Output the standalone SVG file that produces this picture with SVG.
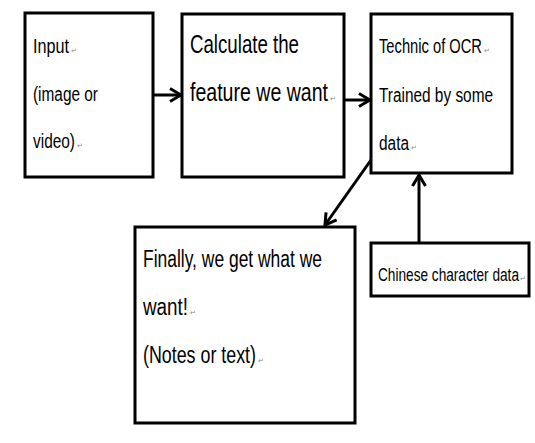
<svg xmlns="http://www.w3.org/2000/svg" width="535" height="443" viewBox="0 0 535 443">
<style>
.box{fill:#fff;stroke:#000;stroke-width:3}
.t{font-family:"Liberation Sans",Arial,sans-serif;fill:#000}
.a{font-size:16px}
.b{font-size:19px}
.c{font-size:15.3px}
.d{font-size:17.3px}
.e{font-size:13.6px}
.rm{font-family:"DejaVu Sans",sans-serif;font-size:7px;fill:#888}
.ln{stroke:#000;stroke-width:3;fill:none}
</style>
<defs>
<marker id="ah" viewBox="0 0 16 16" refX="14" refY="8" markerWidth="16" markerHeight="16" markerUnits="userSpaceOnUse" orient="auto">
<path d="M3,1.5 L14,8 L3,14.5" fill="none" stroke="#000" stroke-width="3"/>
</marker>
</defs>
<rect width="535" height="443" fill="#fff"/>
<g id="node-input">
<rect class="box" x="25" y="13" width="128" height="164"/>
<text class="t a" transform="translate(33,53) scale(1,1.25)" textLength="36" lengthAdjust="spacingAndGlyphs">Input</text>
<text class="rm" x="71" y="53">↵</text>
<text class="t a" transform="translate(33,101) scale(1,1.25)" textLength="65" lengthAdjust="spacingAndGlyphs">(image or</text>
<text class="t a" transform="translate(33,148) scale(1,1.25)" textLength="42" lengthAdjust="spacingAndGlyphs">video)</text>
<text class="rm" x="77" y="148">↵</text>
</g>
<g id="node-calculate">
<rect class="box" x="182" y="14" width="162" height="163"/>
<text class="t b" transform="translate(190,53) scale(1,1.32)" textLength="109" lengthAdjust="spacingAndGlyphs">Calculate the</text>
<text class="t b" transform="translate(190,101) scale(1,1.32)" textLength="138" lengthAdjust="spacingAndGlyphs">feature we want</text>
<text class="rm" x="330" y="101">↵</text>
</g>
<g id="node-ocr">
<rect class="box" x="371" y="14" width="141" height="159"/>
<text class="t" font-size="14.4" transform="translate(379,53) scale(1,1.36)" textLength="103" lengthAdjust="spacingAndGlyphs">Technic of OCR</text>
<text class="rm" x="484" y="53">↵</text>
<text class="t c" transform="translate(379,102) scale(1,1.28)" textLength="114" lengthAdjust="spacingAndGlyphs">Trained by some</text>
<text class="t c" transform="translate(379,150) scale(1,1.28)" textLength="30" lengthAdjust="spacingAndGlyphs">data</text>
<text class="rm" x="411" y="150">↵</text>
</g>
<g id="node-result">
<rect class="box" x="135" y="227" width="220" height="196"/>
<text class="t d" transform="translate(143,267) scale(1,1.35)" textLength="179" lengthAdjust="spacingAndGlyphs">Finally, we get what we</text>
<text class="t d" transform="translate(143,315) scale(1,1.35)" textLength="45" lengthAdjust="spacingAndGlyphs">want!</text>
<text class="rm" x="190" y="315">↵</text>
<text class="t d" transform="translate(143,363) scale(1,1.35)" textLength="113" lengthAdjust="spacingAndGlyphs">(Notes or text)</text>
<text class="rm" x="258" y="363">↵</text>
</g>
<g id="node-chinese">
<rect class="box" x="371" y="243" width="158" height="53"/>
<text class="t e" transform="translate(378,281) scale(1,1.36)" textLength="141" lengthAdjust="spacingAndGlyphs">Chinese character data</text>
<text class="rm" x="520" y="281">↵</text>
</g>
<g id="connectors">
<line class="ln" x1="153" y1="95" x2="181" y2="95" marker-end="url(#ah)"/>
<line class="ln" x1="344" y1="100" x2="370" y2="100" marker-end="url(#ah)"/>
<line class="ln" x1="371" y1="160" x2="325" y2="225" marker-end="url(#ah)"/>
<line class="ln" x1="419" y1="243" x2="419" y2="175" marker-end="url(#ah)"/>
</g>
</svg>
